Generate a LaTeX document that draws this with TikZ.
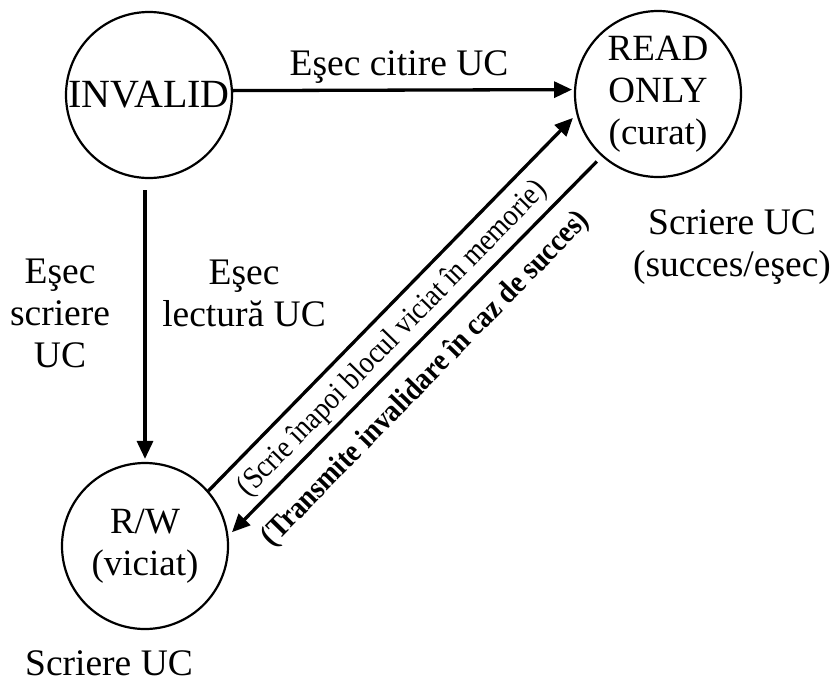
\documentclass[tikz,border=0pt]{standalone}
\usepackage{fontspec}
\setmainfont{Liberation Serif}
\usetikzlibrary{arrows.meta}
% centred multi-line block with strut-based line spacing
\newcommand\stack[1]{\begin{tabular}{@{}c@{}}#1\end{tabular}}
\begin{document}
\begin{tikzpicture}[x=1pt,y=-1pt,
  state/.style={draw, circle, line width=2.2pt, minimum size=166pt, inner sep=0pt,
    font=\fontsize{37}{42}\selectfont},
  flow/.style={line width=3.3pt, -{Triangle[length=18pt,width=16pt]}},
  lbl/.style={inner sep=0pt, font=\fontsize{37.5}{42}\selectfont},
  % text condensed along its own baseline, then laid along the diagonals
  diag/.style={inner sep=0pt, rotate=45.7, xscale=0.89, font=\fontsize{31}{36}\selectfont}]
\useasboundingbox (0,0) rectangle (834,683);

% states
\node[state] (inv) at (149,95) {\makebox[0pt]{\fontsize{40}{44}\selectfont INVALID}};
\node[state] (ro) at (658,94) {\makebox[0pt]{\stack{READ\\ONLY\\(curat)}}};
\node[state] (rw) at (145,546) {\makebox[0pt]{\stack{R/W\\(viciat)}}};

% transitions
\draw[flow, shorten >=2pt] (inv.3.5) -- (ro.177.2);
\draw[flow, shorten <=11pt, shorten >=3pt] (inv.south -| rw.north) -- (rw.north);
\draw[flow, shorten >=5pt] (rw.41.6) -- (ro.194.5);
\draw[flow, shorten <=7pt, shorten >=5pt] (ro.228.6) -- (rw.7.1);

% transition labels
\node[lbl, anchor=base] (lcit) at (399,75) {Eşec citire UC};
\node[lbl] (lscr) at (60,316.6) {\stack{Eşec\\scriere\\UC}};
\node[lbl] (llec) at (244,296.6) {\stack{Eşec\\lectură UC}};
\node[lbl] (lro) at (732,246.6) {\stack{Scriere UC\\(succes/eşec)}};
\node[lbl, anchor=base] (lrw) at (109,675) {Scriere UC};
\node[diag] (twb) at (393,339) {(Scrie înapoi blocul viciat în memorie)};
\node[diag, font=\fontsize{31}{36}\selectfont\bfseries] (tinv) at (426,379)
  {(Transmite invalidare în caz de succes)};
\end{tikzpicture}
\end{document}
